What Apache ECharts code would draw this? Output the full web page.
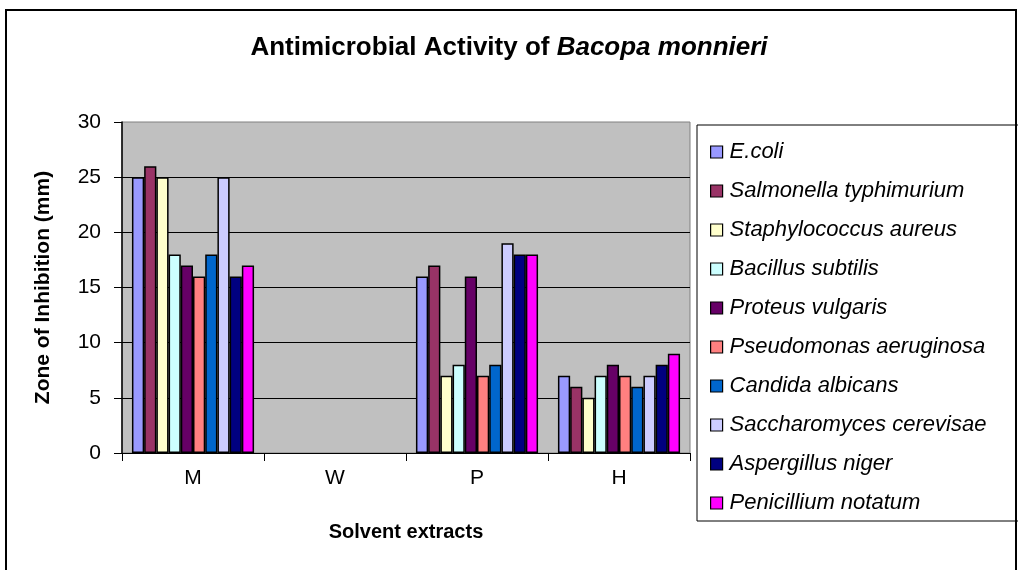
<!DOCTYPE html>
<html>
<head>
<meta charset="utf-8">
<script src="https://cdn.jsdelivr.net/npm/echarts@6/dist/echarts.min.js"></script>
<style>
  html, body { margin: 0; padding: 0; background: #fff; }
  #chart { width: 1018px; height: 570px; }
</style>
</head>
<body>
<div id="chart"></div>
<script>
  var extracts = ['M', 'W', 'P', 'H']
  var yTicks = [0, 5, 10, 15, 20, 25, 30]

  var ecoli = [25, 0, 16, 7]
  var salmonella = [26, 0, 17, 6]
  var staphylococcus = [25, 0, 7, 5]
  var bacillus = [18, 0, 8, 7]
  var proteus = [17, 0, 16, 8]
  var pseudomonas = [16, 0, 7, 7]
  var candida = [18, 0, 8, 6]
  var saccharomyces = [25, 0, 19, 7]
  var aspergillus = [16, 0, 18, 8]
  var penicillium = [17, 0, 18, 9]

  var organisms = [
    { name: 'E.coli', data: ecoli, color: '#9999FF' },
    { name: 'Salmonella typhimurium', data: salmonella, color: '#993366' },
    { name: 'Staphylococcus aureus', data: staphylococcus, color: '#FFFFCC' },
    { name: 'Bacillus subtilis', data: bacillus, color: '#CCFFFF' },
    { name: 'Proteus vulgaris', data: proteus, color: '#660066' },
    { name: 'Pseudomonas aeruginosa', data: pseudomonas, color: '#FF8080' },
    { name: 'Candida albicans', data: candida, color: '#0066CC' },
    { name: 'Saccharomyces cerevisae', data: saccharomyces, color: '#CCCCFF' },
    { name: 'Aspergillus niger', data: aspergillus, color: '#000080' },
    { name: 'Penicillium notatum', data: penicillium, color: '#FF00FF' }
  ]

  var font = 'Arial, "Liberation Sans", sans-serif'

  var series = organisms.map(function (o) {
    return {
      name: o.name,
      type: 'bar',
      // zero-height bars get no outline (Excel draws nothing for them)
      data: o.data.map(function (v) {
        return v === 0 ? { value: v, itemStyle: { borderWidth: 0 } } : v
      }),
      barGap: '0%',
      barCategoryGap: '14%',
      itemStyle: { color: o.color, borderColor: '#000', borderWidth: 1.5 }
    }
  })

  var chart = echarts.init(document.getElementById('chart'))
  chart.setOption({
    animation: false,
    textStyle: { fontFamily: font },
    title: {
      text: '{a|Antimicrobial Activity of }{b|Bacopa monnieri}',
      left: 'center',
      top: 30,
      textStyle: {
        rich: {
          a: { fontFamily: font, fontSize: 26, fontWeight: 'bold', color: '#000' },
          b: { fontFamily: font, fontSize: 26, fontWeight: 'bold', fontStyle: 'italic', color: '#000' }
        }
      }
    },
    graphic: [
      {
        type: 'rect',
        shape: { x: 6, y: 10, width: 1010, height: 600 },
        style: { fill: null, stroke: '#000', lineWidth: 2 },
        silent: true
      },
      {
        type: 'rect',
        shape: { x: 697, y: 125, width: 330, height: 396 },
        style: { fill: '#fff', stroke: '#000', lineWidth: 1 },
        z: -1,
        silent: true
      }
    ],
    legend: {
      orient: 'vertical',
      left: 710,
      top: 141,
      icon: 'rect',
      itemWidth: 12,
      itemHeight: 12,
      itemGap: 17,
      padding: 0,
      itemStyle: { borderColor: '#000', borderWidth: 1.2 },
      textStyle: { fontFamily: font, fontSize: 22, fontStyle: 'italic', color: '#000', lineHeight: 22, padding: [0, 0, 0, 2] },
      data: organisms.map(function (o) { return o.name })
    },
    grid: {
      left: 122,
      right: 328,
      top: 122,
      bottom: 117,
      show: true,
      backgroundColor: '#C0C0C0',
      borderColor: '#808080',
      borderWidth: 1
    },
    xAxis: {
      type: 'category',
      data: extracts,
      name: 'Solvent extracts',
      nameLocation: 'middle',
      nameGap: 69,
      nameTextStyle: { fontFamily: font, fontSize: 20, fontWeight: 'bold', color: '#000' },
      axisLine: { lineStyle: { color: '#000', width: 1 } },
      axisTick: { show: true, length: 8, lineStyle: { color: '#000' } },
      axisLabel: { fontFamily: font, fontSize: 21, color: '#000', margin: 15 }
    },
    yAxis: {
      type: 'value',
      min: yTicks[0],
      max: yTicks[yTicks.length - 1],
      interval: 5,
      name: 'Zone of Inhibition (mm)',
      nameLocation: 'middle',
      nameRotate: 90,
      nameGap: 68,
      nameTextStyle: { fontFamily: font, fontSize: 21, fontWeight: 'bold', color: '#000' },
      axisLine: { show: true, lineStyle: { color: '#000', width: 1.5 } },
      axisTick: { show: true, length: 8, lineStyle: { color: '#000' } },
      axisLabel: { fontFamily: font, fontSize: 21, color: '#000', margin: 21 },
      splitLine: { show: true, showMaxLine: false, lineStyle: { color: '#000', width: 1 } }
    },
    series: series
  })
</script>
</body>
</html>
